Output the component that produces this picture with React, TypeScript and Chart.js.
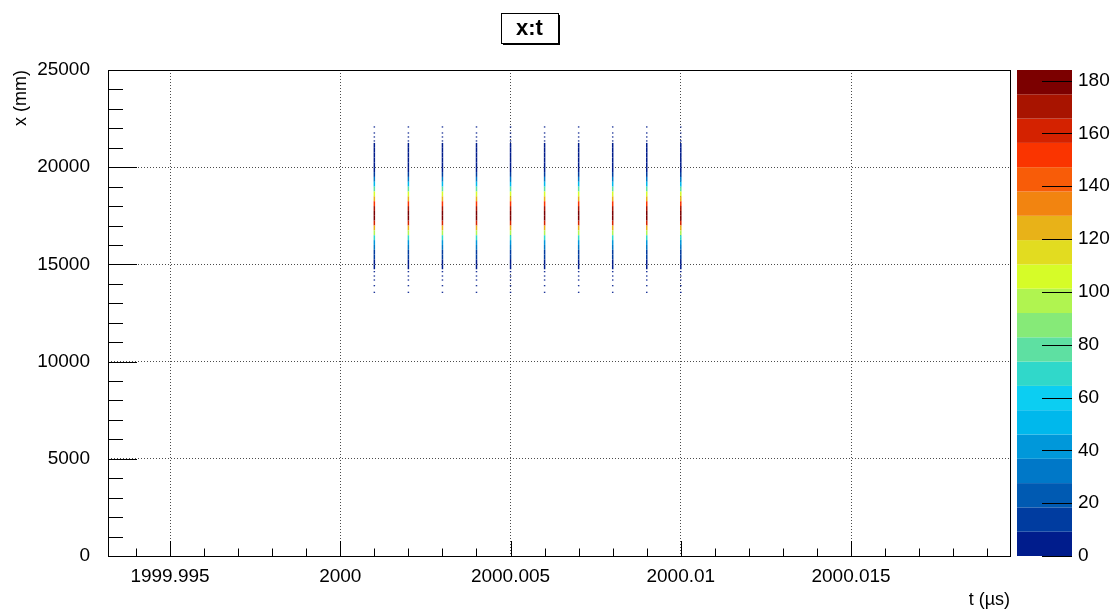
import React, { useEffect, useRef } from "react";
import { Chart, registerables } from "chart.js";

Chart.register(...registerables);

// ---- data ----
const tValues = [
  2000.001, 2000.002, 2000.003, 2000.004, 2000.005,
  2000.006, 2000.007, 2000.008, 2000.009, 2000.01,
];
// core y-bins (centres, mm) and their counts, shared by every t column
const coreBinCenters = [
  21125, 20875, 20625, 20375, 20125, 19875, 19625, 19375, 19125, 18875,
  18625, 18375, 18125, 17875, 17625, 17375, 17125, 16875, 16625, 16375,
  16125, 15875, 15625, 15375, 15125, 14875,
];
const coreBinCounts = [
  3, 4, 5, 6, 7, 9, 14, 28, 55, 80,
  102, 122, 150, 170, 184, 176, 158, 122, 95, 66,
  45, 28, 17, 11, 7, 5,
];
const coreBinHalf = 125;
// sparse hits in the tails
const tailHits = [22070, 21760, 21555, 21350, 14625, 14403, 14197, 13904, 13565];
const tailCounts = [1, 1, 1, 2, 2, 1, 1, 1, 1];
const tailBinHalf = 30;

const xMin = 1999.993178;
const xMax = 2000.019668;
const xTickValues = [1999.995, 2000, 2000.005, 2000.01, 2000.015];
const xTickLabels = ["1999.995", "2000", "2000.005", "2000.01", "2000.015"];
const yTickValues = [0, 5000, 10000, 15000, 20000, 25000];
const zTickValues = [0, 20, 40, 60, 80, 100, 120, 140, 160, 180];
const zMax = 184;

const paletteColors = [
  "#001c8c", "#003ca0", "#005ab2", "#0078c8", "#0098da",
  "#00b8ec", "#0ccef2", "#30d8ca", "#5ee0a2", "#86ea78",
  "#b0f450", "#d6fc28", "#e2dc20", "#e8b218", "#f28410",
  "#f85c08", "#fa3400", "#d42200", "#a81400", "#7c0000",
];

const FONT = "'Liberation Sans', Arial, Helvetica, sans-serif";

function colorFor(v: number) {
  const i = Math.min(paletteColors.length - 1, Math.floor((v / zMax) * paletteColors.length));
  return paletteColors[i];
}

const rootDecor = {
  id: "rootDecor",
  afterDraw(chart: any) {
    const { ctx, chartArea: a, scales } = chart;
    const xs = scales.x, ys = scales.y, zs = scales.z;
    const L = Math.round(a.left), R = Math.round(a.right), T = Math.round(a.top), B = Math.round(a.bottom);
    ctx.save();
    ctx.strokeStyle = "#000";
    ctx.lineWidth = 1;
    const line = (x1: number, y1: number, x2: number, y2: number) => {
      ctx.beginPath();
      ctx.moveTo(x1, y1);
      ctx.lineTo(x2, y2);
      ctx.stroke();
    };
    // frame
    ctx.strokeRect(L + 0.5, T + 0.5, R - L, B - T);
    // y ticks (inside, left)
    for (let v = 0; v <= 25000; v += 1000) {
      const py = Math.round(ys.getPixelForValue(v)) + 0.5;
      const len = v % 5000 === 0 ? 29 : 15;
      line(L, py, L + len, py);
    }
    // x ticks (inside, bottom)
    for (let k = -6; k <= 19; k++) {
      const v = 2000 + k * 0.001;
      if (v < xs.min || v > xs.max) continue;
      const px = Math.round(xs.getPixelForValue(v)) + 0.5;
      const len = k % 5 === 0 ? 15 : 7.5;
      line(px, B, px, B - len);
    }
    // colour bar
    const cbL = R + 7, cbR = R + 62;
    for (let i = 0; i < paletteColors.length; i++) {
      const z0 = (i * zMax) / paletteColors.length;
      const z1 = ((i + 1) * zMax) / paletteColors.length;
      const y0 = zs.getPixelForValue(z0), y1 = zs.getPixelForValue(z1);
      ctx.fillStyle = paletteColors[i];
      ctx.fillRect(cbL, y1, cbR - cbL, y0 - y1);
    }
    ctx.strokeStyle = "#000";
    zTickValues.forEach((v) => {
      const py = Math.round(zs.getPixelForValue(v)) + 0.5;
      line(cbR - 30, py, cbR, py);
    });
    // title box
    const title = "x:t";
    ctx.font = `bold 22px ${FONT}`;
    const tw = ctx.measureText(title).width;
    const cx = 529.5, cy = 28;
    const bw = tw + 30, bh = 30;
    const bx = Math.round(cx - bw / 2), by = 13;
    ctx.fillStyle = "#fff";
    ctx.fillRect(bx, by, bw, bh);
    ctx.strokeStyle = "#000";
    ctx.lineWidth = 1;
    ctx.strokeRect(bx + 0.5, by + 0.5, Math.round(bw), bh);
    ctx.fillStyle = "#000";
    ctx.fillRect(bx + Math.round(bw), by + 2, 2, bh);
    ctx.fillRect(bx + 2, by + bh, Math.round(bw), 2);
    ctx.textAlign = "center";
    ctx.textBaseline = "middle";
    ctx.fillText(title, cx, cy + 1);
    ctx.restore();
  },
};

const zeroVPad = (s: any) => { s.paddingTop = 0; s.paddingBottom = 0; };
const zeroHPad = (s: any) => { s.paddingLeft = 0; s.paddingRight = 0; };

export default function App() {
  const canvasRef = useRef<HTMLCanvasElement | null>(null);

  useEffect(() => {
    if (!canvasRef.current) return;
    const cells: any[] = [];
    tValues.forEach((t) => {
      coreBinCenters.forEach((c, i) => {
        cells.push({ x: t, y: [c - coreBinHalf, c + coreBinHalf], v: coreBinCounts[i] });
      });
      tailHits.forEach((c, i) => {
        cells.push({ x: t, y: [c - tailBinHalf, c + tailBinHalf], v: tailCounts[i] });
      });
    });

    Chart.defaults.font.family = FONT;
    Chart.defaults.color = "#000";

    const chart = new Chart(canvasRef.current, {
      type: "bar",
      data: {
        datasets: [
          {
            data: cells,
            xAxisID: "x",
            yAxisID: "y",
            barThickness: 1.5,
            borderWidth: 0,
            inflateAmount: 0,
            backgroundColor: (c: any) => (c.raw ? colorFor(c.raw.v) : "#000"),
          } as any,
        ],
      },
      options: {
        animation: false,
        responsive: true,
        maintainAspectRatio: false,
        layout: { padding: { top: 70, left: 0, right: 0, bottom: 0 } },
        plugins: { legend: { display: false }, tooltip: { enabled: false }, title: { display: false } },
        scales: {
          x: {
            type: "linear",
            position: "bottom",
            min: xMin,
            max: xMax,
            offset: false,
            afterFit: (s: any) => { s.height = 56; zeroHPad(s); },
            afterBuildTicks: (s: any) => { s.ticks = xTickValues.map((v) => ({ value: v })); },
            ticks: {
              autoSkip: false,
              maxRotation: 0,
              padding: 9,
              font: { size: 19 },
              callback: (_v: any, i: number) => xTickLabels[i],
            },
            grid: { offset: false, drawTicks: false, color: "rgba(0,0,0,0.7)", lineWidth: 1 },
            border: { display: false, dash: [1, 2] },
            title: { display: true, text: "t (\u00b5s)", align: "end", font: { size: 18 }, padding: { top: 0, bottom: 1 } },
          },
          y: {
            type: "linear",
            position: "left",
            min: 0,
            max: 25000,
            afterFit: (s: any) => { s.width = 108; zeroVPad(s); },
            afterBuildTicks: (s: any) => { s.ticks = yTickValues.map((v) => ({ value: v })); },
            ticks: { padding: 18, font: { size: 19 }, callback: (v: any) => String(v) },
            grid: { drawTicks: false, color: "rgba(0,0,0,0.7)", lineWidth: 1 },
            border: { display: false, dash: [1, 2] },
            title: { display: true, text: "x (mm)", align: "end", font: { size: 18 }, padding: { top: 10, bottom: 0 } },
          },
          z: {
            type: "linear",
            position: "right",
            min: 0,
            max: zMax,
            afterFit: (s: any) => { s.width = 105; zeroVPad(s); },
            afterBuildTicks: (s: any) => { s.ticks = zTickValues.map((v) => ({ value: v })); },
            ticks: { padding: 68, font: { size: 19 }, callback: (v: any) => String(v) },
            grid: { display: false, drawTicks: false },
            border: { display: false },
          },
        },
      } as any,
      plugins: [rootDecor],
    });
    return () => chart.destroy();
  }, []);

  return (
    <div style={{ position: "fixed", left: 0, top: 0, width: 1115, height: 612, background: "#fff" }}>
      <canvas ref={canvasRef} />
    </div>
  );
}
